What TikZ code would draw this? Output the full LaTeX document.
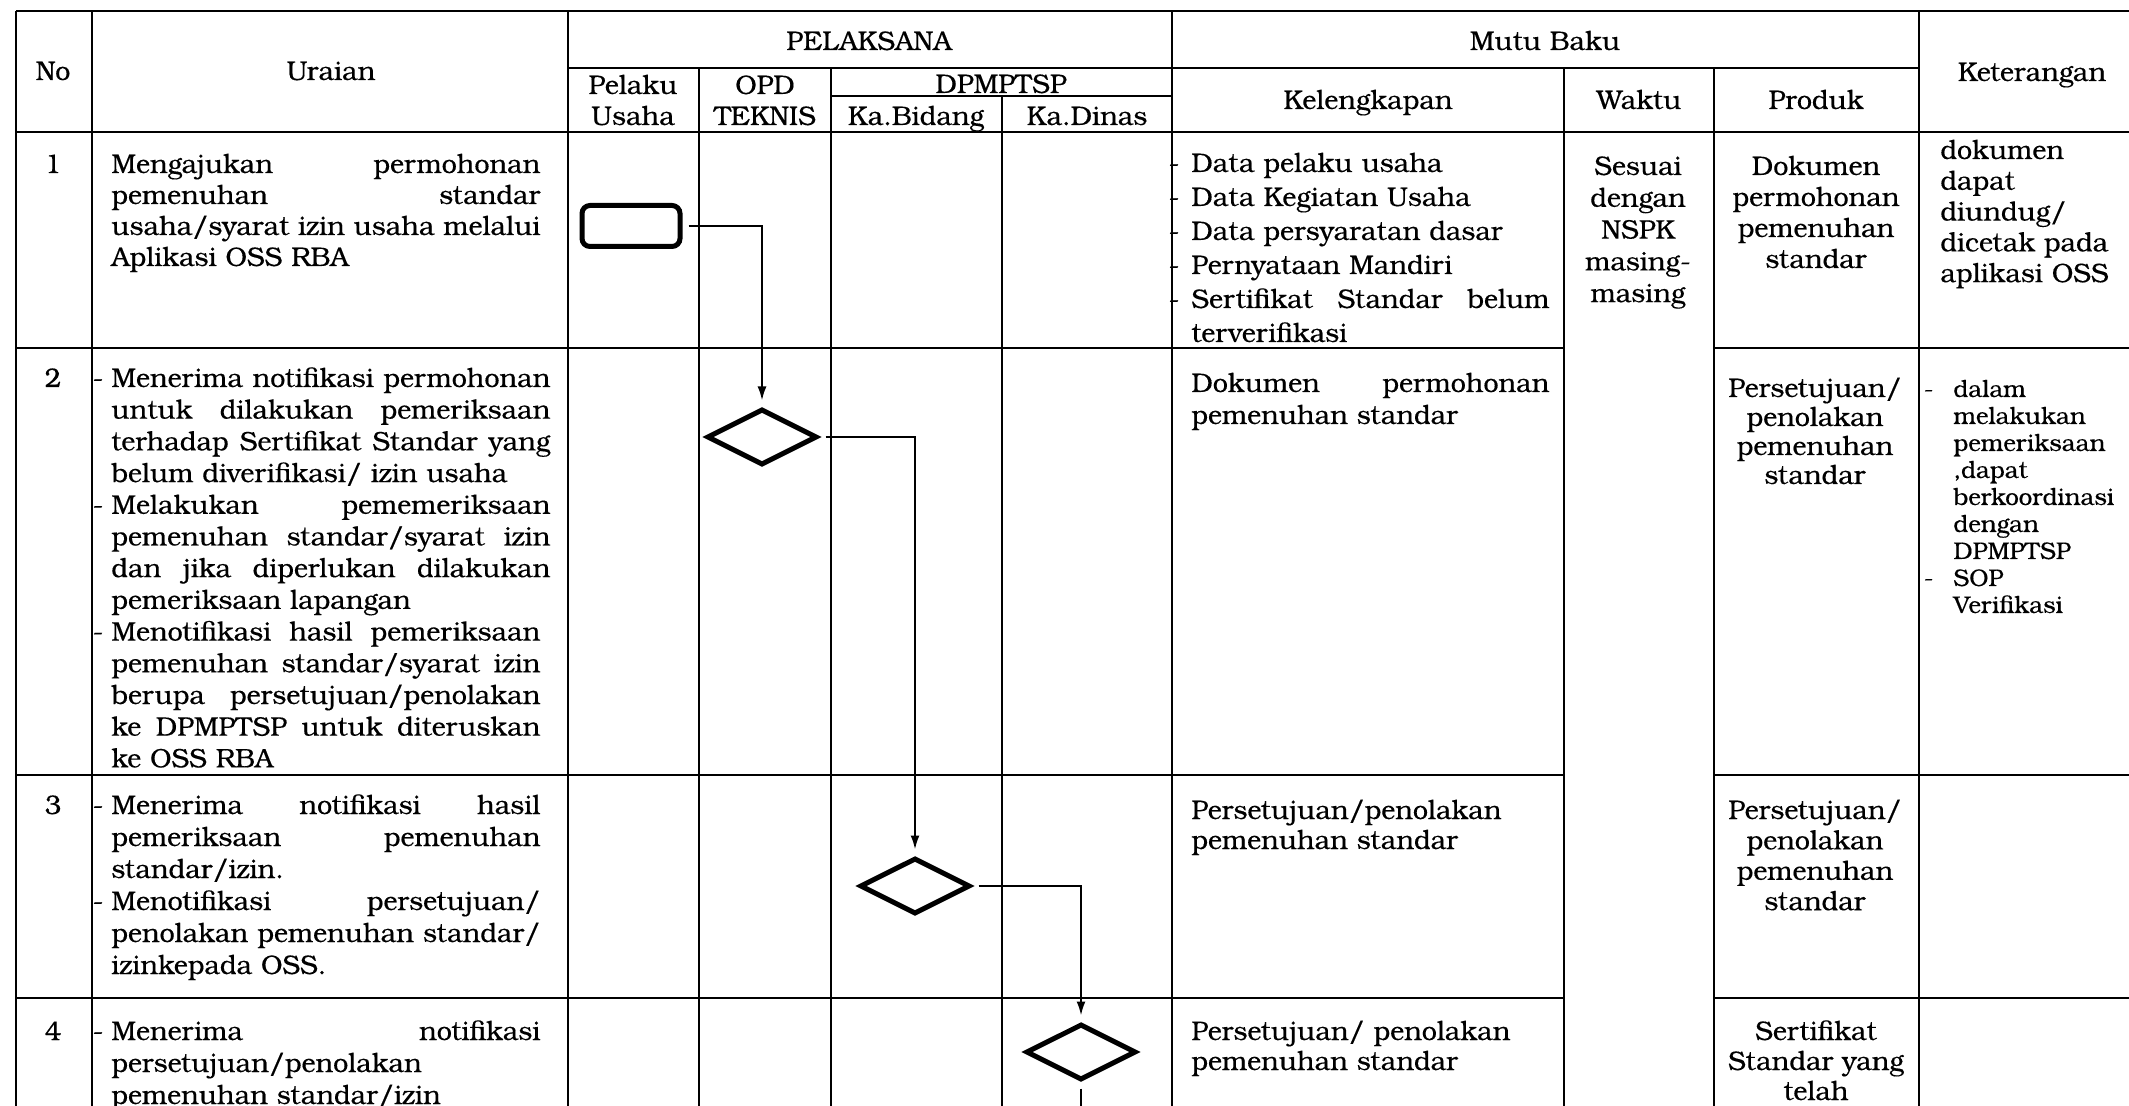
\documentclass[tikz,border=0pt]{standalone}
\usepackage{fontspec}
\setmainfont{TeX Gyre Bonum}[FakeBold=0.35]
\usetikzlibrary{shapes.geometric,arrows.meta}
\newcommand{\fsz}[1]{\fontsize{13.4}{#1}\selectfont}
\newcommand{\jline}[1]{\makebox[\linewidth][s]{\spaceskip=0pt\xspaceskip=0pt\relax #1}}
\newcommand{\jwide}[1]{\makebox[214.5pt][s]{\spaceskip=0pt\xspaceskip=0pt\relax #1}}
\newcommand{\ldash}[1]{\leavevmode\llap{-\hspace{#1}}}
\begin{document}
\begin{tikzpicture}[x=0.5pt,y=-0.5pt,
  tl/.style={line width=1.1pt},
  shp/.style={draw, line width=2.5pt, inner sep=0pt},
  conn/.style={line width=1pt, -{Latex[length=7pt,width=4.5pt]}, shorten <=3pt, shorten >=3pt},
  cl/.style={anchor=base west, inner sep=0pt, align=left},
  cc/.style={anchor=base, inner sep=0pt, align=center},
  hd/.style={anchor=base, inner sep=0pt, align=center, font=\fsz{15.5}}]
\useasboundingbox (0,0) rectangle (2129,1106);
\fill[white] (0,0) rectangle (2129,1106);
\clip (0,0) rectangle (2129,1106);
% table lines
\draw[tl] (16,11) -- (2145,11);
\draw[tl] (568,68) -- (1919,68);
\draw[tl] (831,96) -- (1172,96);
\draw[tl] (16,132) -- (2145,132);
\foreach \r in {348,775,998}{
  \draw[tl] (16,\r) -- (1564,\r);
  \draw[tl] (1714,\r) -- (2145,\r);
}
\foreach \c in {16,92,568,1172,1919,2145}{\draw[tl] (\c,11) -- (\c,1250);}
\foreach \c in {699,831,1564,1714}{\draw[tl] (\c,68) -- (\c,1250);}
\draw[tl] (1002,96) -- (1002,1250);
% header
\node[hd] (hno) at (53,80) {No};
\node[hd] (hur) at (331,80) {Uraian};
\node[hd] (hpel) at (869,50) {PELAKSANA};
\node[hd] (hmb) at (1545,50) {Mutu Baku};
\node[hd] (hket) at (2032,81) {Keterangan};
\node[hd, text width=62pt] (hpu) at (633,94) {Pelaku\\Usaha};
\node[hd, text width=62pt] (hopd) at (765,94) {OPD\\TEKNIS};
\node[hd] (hdp) at (1001,93) {DPMPTSP};
\node[hd] (hkb) at (916,125) {Ka.Bidang};
\node[hd] (hkd) at (1087,125) {Ka.Dinas};
\node[hd] (hkel) at (1368,109) {Kelengkapan};
\node[hd] (hw) at (1639,109) {Waktu};
\node[hd] (hp) at (1816,109) {Produk};
% numbers
\node[cc, font=\fsz{15.5}] (n1) at (53,173) {1};
\node[cc, font=\fsz{15.5}] (n2) at (53,387) {2};
\node[cc, font=\fsz{15.5}] (n3) at (53,814) {3};
\node[cc, font=\fsz{15.5}] (n4) at (53,1040) {4};
% Uraian
\node[cl, text width=214.5pt, font=\fsz{15.5}] (u1) at (111,173)
 {\jline{Mengajukan permohonan}\\
  \jline{pemenuhan standar}\\
  \jline{usaha/syarat izin usaha melalui}\\
  Aplikasi OSS RBA};
\node[cl, text width=219.5pt, font=\fsz{15.85}] (u2) at (111,387)
 {\ldash{4pt}\jline{Menerima notifikasi permohonan}\\
  \jline{untuk dilakukan pemeriksaan}\\
  \jline{terhadap Sertifikat Standar yang}\\
  belum diverifikasi/ izin usaha\\
  \ldash{4pt}\jline{Melakukan pememeriksaan}\\
  \jline{pemenuhan standar/syarat izin}\\
  \jline{dan jika diperlukan dilakukan}\\
  pemeriksaan lapangan\\
  \ldash{4pt}\jwide{Menotifikasi hasil pemeriksaan}\\
  \jwide{pemenuhan standar/syarat izin}\\
  \jwide{berupa persetujuan/penolakan}\\
  \jwide{ke DPMPTSP untuk diteruskan}\\
  ke OSS RBA};
\node[cl, text width=214.5pt, font=\fsz{16}] (u3) at (111,814)
 {\ldash{4pt}\jline{Menerima notifikasi hasil}\\
  \jline{pemeriksaan pemenuhan}\\
  standar/izin.\\
  \ldash{4pt}\jline{Menotifikasi persetujuan/}\\
  \jline{penolakan pemenuhan standar/}\\
  izinkepada OSS.};
\node[cl, text width=214.5pt, font=\fsz{16}] (u4) at (111,1040)
 {\ldash{4pt}\jline{Menerima notifikasi}\\
  persetujuan/penolakan\\
  pemenuhan standar/izin};
% Kelengkapan
\node[cl, text width=179pt, font=\fsz{17}] (k1) at (1191,172)
 {\ldash{6pt}Data pelaku usaha\\
  \ldash{6pt}Data Kegiatan Usaha\\
  \ldash{6pt}Data persyaratan dasar\\
  \ldash{6pt}Pernyataan Mandiri\\
  \ldash{6pt}\jline{Sertifikat Standar belum}\\
  terverifikasi};
\node[cl, text width=179pt, font=\fsz{16}] (k2) at (1191,392)
 {\jline{Dokumen permohonan}\\ pemenuhan standar};
\node[cl, text width=179pt, font=\fsz{15}] (k3) at (1191,819)
 {Persetujuan/penolakan\\ pemenuhan standar};
\node[cl, text width=179pt, font=\fsz{15}] (k4) at (1191,1040)
 {Persetujuan/ penolakan\\ pemenuhan standar};
% Waktu
\node[cc, text width=70pt, font=\fsz{15.9}] (w1) at (1638,175)
 {Sesuai\\ dengan\\ NSPK\\ masing-\\ masing};
% Produk
\node[cc, text width=95pt, font=\fsz{15.5}] (p1) at (1816,175)
 {Dokumen\\ permohonan\\ pemenuhan\\ standar};
\node[cc, text width=95pt, font=\fsz{14.5}] (p2) at (1815,397)
 {Persetujuan/\\ penolakan\\ pemenuhan\\ standar};
\node[cc, text width=95pt, font=\fsz{15.2}] (p3) at (1815,819)
 {Persetujuan/\\ penolakan\\ pemenuhan\\ standar};
\node[cc, text width=95pt, font=\fsz{15}] (p4) at (1816,1040)
 {Sertifikat\\ Standar yang\\ telah};
% Keterangan
\node[cl, text width=110pt, font=\fsz{15.4}] (t1) at (1940,159)
 {dokumen\\ dapat\\ diundug/\\ dicetak pada\\ aplikasi OSS};
\node[cl, text width=110pt, font=\fontsize{12}{13.5}\selectfont] (t2) at (1953,397)
 {\ldash{10pt}dalam\\ melakukan\\ pemeriksaan\\ ,dapat\\ berkoordinasi\\ dengan\\ DPMPTSP\\ \ldash{10pt}SOP\\ Verifikasi};
% flow shapes
\node[shp, rounded corners=4pt, minimum width=49pt, minimum height=20.5pt] (s1) at (631,226) {};
\node[shp, diamond, minimum width=55pt, minimum height=28pt] (d1) at (762,437) {};
\node[shp, diamond, minimum width=55pt, minimum height=28pt] (d2) at (915,886) {};
\node[shp, diamond, minimum width=55pt, minimum height=28pt] (d3) at (1081,1052) {};
\coordinate (e4) at (1081,1150);
\draw[conn] (s1.east) -| (d1.north);
\draw[conn] (d1.east) -| (d2.north);
\draw[conn] (d2.east) -| (d3.north);
\draw[line width=1pt, shorten <=3pt] (d3.south) -- (e4);
\end{tikzpicture}
\end{document}
